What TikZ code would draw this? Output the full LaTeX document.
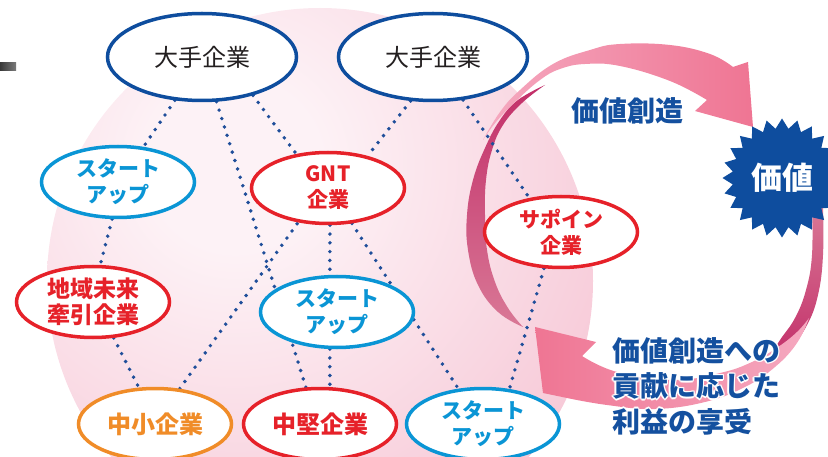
\documentclass[tikz,border=0pt]{standalone}
\usepackage{fontspec}
\newfontfamily\jp{Noto Sans CJK JP}
\usetikzlibrary{shapes.geometric}
\definecolor{cDB}{HTML}{0E4D9E}
\definecolor{cDot}{HTML}{1F4E9A}
\definecolor{cCy}{HTML}{0A95D5}
\definecolor{cRd}{HTML}{E62129}
\definecolor{cOr}{HTML}{F08C28}
\definecolor{cTxt}{HTML}{231F20}
\definecolor{cBl}{HTML}{14509F}
\definecolor{cMag}{HTML}{C22F69}
\definecolor{cMau}{HTML}{D97896}
\definecolor{cPkL}{HTML}{F5A9C0}
\definecolor{cPkD}{HTML}{EF7593}
\definecolor{s0}{HTML}{FDF2F6}
\definecolor{s1}{HTML}{F7CAD8}
\definecolor{s2}{HTML}{EFA0B8}
\pgfdeclareradialshading{sph}{\pgfpoint{0bp}{0bp}}{color(0bp)=(s0); color(5bp)=(s0); color(24bp)=(s1); color(50bp)=(s2)}
\pgfdeclarelayer{bg}\pgfdeclarelayer{ln}
\pgfsetlayers{bg,ln,main}
\newcommand\halo[1]{%
\rlap{\color{white}\hspace*{1.6pt}#1}%
\rlap{\color{white}\hspace*{-1.6pt}#1}%
\rlap{\color{white}\raisebox{1.6pt}{#1}}%
\rlap{\color{white}\raisebox{-1.6pt}{#1}}%
\rlap{\color{white}\hspace*{1.1pt}\raisebox{1.1pt}{#1}}%
\rlap{\color{white}\hspace*{-1.1pt}\raisebox{1.1pt}{#1}}%
\rlap{\color{white}\hspace*{1.1pt}\raisebox{-1.1pt}{#1}}%
\rlap{\color{white}\hspace*{-1.1pt}\raisebox{-1.1pt}{#1}}%
#1}
\begin{document}
\begin{tikzpicture}[x=1pt,y=-1pt,
  el/.style={ellipse, draw, line width=3.5pt, fill=white, inner sep=0pt, align=center},
  bigE/.style={el, draw=cDB, text=cTxt, minimum width=189pt, minimum height=87pt, font=\jp\fontsize{24}{28}\selectfont},
  subE/.style={el, minimum width=153pt, minimum height=71pt, font=\jp\bfseries\fontsize{21}{26}\selectfont},
  cyE/.style={subE, draw=cCy, text=cCy},
  rdE/.style={subE, draw=cRd, text=cRd},
  orE/.style={subE, draw=cOr, text=cOr},
  big/.style={font=\jp\bfseries\fontsize{24}{26}\selectfont},
  dots/.style={draw=cDot, line width=3.9pt, line cap=round, dash pattern=on 0pt off 8.8pt},
]
\useasboundingbox (0,0) rectangle (828,457);

% nodes
\node[bigE] (dL) at (202,57) {大手企業};
\node[bigE] (dR) at (433,57) {大手企業};
\node[cyE] (sL) at (118,182) {スタート\\アップ};
\node[rdE] (gnt) at (328,188) {GNT\\企業};
\node[rdE] (sap) at (561,232) {サポイン\\企業};
\node[rdE, font=\jp\bfseries\fontsize{23}{26}\selectfont] (chi) at (93,302) {地域未来\\牽引企業};
\node[cyE] (sC) at (337,312) {スタート\\アップ};
\node[orE, big] (chu) at (155,424) {中小企業};
\node[rdE, big] (chk) at (320,424) {中堅企業};
\node[cyE] (sB) at (483,424) {スタート\\アップ};

\node[star, star points=24, star point ratio=1.2, minimum size=119pt, inner sep=0pt, fill=cDB, text=white, font=\jp\bfseries\fontsize{31}{34}\selectfont] (val) at (782,178) {価値};

\node[text=cBl, font=\jp\bfseries\fontsize{28}{32}\selectfont] (vc) at (627,111) {価値創造};
\node[anchor=west, align=left, text=cBl, inner sep=0pt, font=\jp\bfseries\fontsize{28}{35.5}\selectfont] (gain) at (612,386) {\halo{価値創造への}\\\halo{貢献に応じた}\\\halo{利益の享受}};

\begin{pgfonlayer}{bg}
\begin{scope}
\clip (320,281) circle (273);
\shade[shading=sph] (235,165) circle (430);
\end{scope}
\shade[left color=black!78, right color=black!52] (0,63) rectangle (16,71);
% upper arrow: dark face
\shade[top color=cMag, bottom color=cMau] plot[smooth, tension=0.7] coordinates {(523,327) (498,312) (478,285) (468,250) (467,215) (473,180) (485,148) (500,120) (518,100) (545,85)} -- plot[smooth, tension=0.7] coordinates {(545,85) (522,103) (503,125) (492,150) (486,180) (485,215) (487,250) (495,282) (508,308) (523,327)} -- cycle;
% upper arrow: light face
\shade[left color=cPkL, right color=cPkD] plot[smooth, tension=0.7] coordinates {(483,140) (500,112) (520,90) (553,64) (590,50) (620,44) (670,45) (710,54) (733,67)} -- (748,62) -- (753,127) -- (695,111) -- (707,100) -- plot[smooth, tension=0.7] coordinates {(707,100) (670,81) (620,66) (585,64) (560,69) (540,80) (515,102) (496,122) (483,140)} -- cycle;
% lower arrow: dark face
\shade[top color=cMau, bottom color=cMag] plot[smooth, tension=0.7] coordinates {(823,205) (823,255) (818,295) (807,325) (790,348) (766,362)} -- plot[smooth, tension=0.7] coordinates {(766,362) (780,340) (795,318) (806,290) (812,255) (812,205)} -- cycle;
% lower arrow: light face
\shade[left color=cPkD, right color=cPkL] plot[smooth, tension=0.7] coordinates {(809,318) (797,343) (775,367) (745,387) (705,402) (655,409) (607,405) (567,398)} -- (543,393) -- (535,327) -- (596,342) -- (582,356) -- plot[smooth, tension=0.7] coordinates {(582,356) (617,372) (673,380) (720,373) (752,362) (778,347) (797,332) (809,318)} -- cycle;
\end{pgfonlayer}

\begin{pgfonlayer}{ln}
\draw[dots] (dL.238) -- (sL.54);
\draw[dots] (dL.-72) -- (chk.111);
\draw[dots] (dL.-37) -- (gnt.133);
\draw[dots] (dR.-117) -- (gnt.39);
\draw[dots] (dR.-55) -- (sap.133);
\draw[dots] (sL.-99) -- (chi.79);
\draw[dots] (chi.-60) -- (chu.114);
\draw[dots] (chu.55) -- (gnt.-131);
\draw[dots] (gnt.-87) -- (sC.101);
\draw[dots] (sC.-101) -- (chk.75);
\draw[dots] (gnt.-56) -- (sB.125);
\draw[dots] (sap.-115) -- (sB.53);
\end{pgfonlayer}
\end{tikzpicture}
\end{document}
